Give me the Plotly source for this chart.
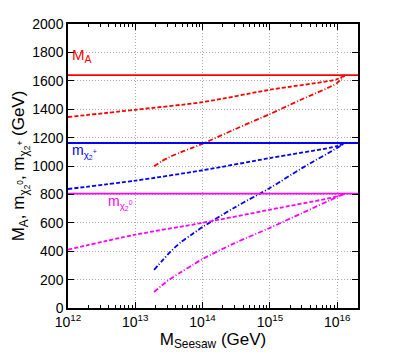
import plotly.graph_objects as go

# Horizontal reference masses (GeV)
x_solid = [1e12, 2.04e16]
MA_solid = [1640, 1640]
mch_solid = [1162, 1162]
mn_solid = [805, 805]

# Dashed curves
x_dash = [1e12, 1e13, 1e14, 1e15, 1e16, 1.3e16]
MA_dash = [1345, 1396, 1450, 1537, 1612, 1640]
mch_dash = [838, 897, 970, 1056, 1140, 1162]
mn_dash = [411, 516, 600, 692, 786, 805]

# Dash-dot curves
x_dd = [1.9e13, 2.5e13, 3.2e13, 4.8e13, 7e13, 1e14, 3e14, 1e15, 3e15, 1e16, 1.3e16]
MA_dd = [998, 1035, 1062, 1098, 1128, 1157, 1258, 1366, 1470, 1585, 1640]
mch_dd = [268, 332, 388, 465, 520, 570, 708, 845, 985, 1127, 1162]
mn_dd = [113, 160, 199, 253, 300, 345, 457, 564, 668, 782, 805]

# Axis ticks
x_tickvals = [1e12, 1e13, 1e14, 1e15, 1e16]
x_ticktext = ["10<sup>12</sup>", "10<sup>13</sup>", "10<sup>14</sup>", "10<sup>15</sup>", "10<sup>16</sup>"]

RED, BLUE, MAG = "#ff0000", "#0000ff", "#ff00ff"
DASH = "4px,2px"
DASHDOT = "5px,2px,1px,2px"

fig = go.Figure()
def add(x, y, c, dash, w=1.8):
    fig.add_trace(go.Scatter(x=x, y=y, mode="lines",
                             line=dict(color=c, width=w, dash=dash, shape="spline", smoothing=0.8),
                             showlegend=False))

add(x_solid, MA_solid, RED, "solid")
add(x_dash, MA_dash, RED, DASH)
add(x_dd, MA_dd, RED, DASHDOT)
add(x_solid, mch_solid, BLUE, "solid")
add(x_dash, mch_dash, BLUE, DASH)
add(x_dd, mch_dd, BLUE, DASHDOT)
add(x_solid, mn_solid, MAG, "solid")
add(x_dash, mn_dash, MAG, DASH)
add(x_dd, mn_dd, MAG, DASHDOT)

FONT = "Liberation Sans, Arial, sans-serif"

fig.add_annotation(x=12.03, y=1780, text="M<sub>A</sub>", showarrow=False,
                   xanchor="left", font=dict(color=RED, size=15, family=FONT))
fig.add_annotation(x=12.03, y=1100, text="m<sub>χ<sub>2</sub><sup>+</sup></sub>", showarrow=False,
                   xanchor="left", font=dict(color=BLUE, size=14, family=FONT))
fig.add_annotation(x=12.56, y=742, text="m<sub>χ<sub>2</sub><sup>0</sup></sub>", showarrow=False,
                   xanchor="left", font=dict(color=MAG, size=14, family=FONT))

minor_x = [m * 10 ** e for e in range(12, 17) for m in range(2, 10) if m * 10 ** e < 2.04e16]

fig.update_layout(
    template="none",
    width=399, height=357,
    margin=dict(l=60, r=49, t=16, b=57),
    paper_bgcolor="white", plot_bgcolor="white",
    font=dict(family=FONT, size=14, color="black"),
)
fig.update_xaxes(
    type="log", range=[12, 16.31], tickmode="array", automargin=False,
    tickvals=x_tickvals, ticktext=x_ticktext, tickangle=0,
    showline=True, linecolor="black", linewidth=1.5, mirror="ticks",
    ticks="inside", ticklen=6, tickcolor="black", tickwidth=1,
    showgrid=True, gridcolor="#aaaaaa", griddash="1px,2px", gridwidth=1,
    minor=dict(ticks="inside", ticklen=3, tickcolor="black", tickwidth=1, tickmode="array",
               tickvals=minor_x, showgrid=False),
    title=dict(text="M<sub>Seesaw</sub> (GeV)", standoff=0),
    zeroline=False,
)
fig.update_yaxes(
    range=[0, 2000], dtick=200, automargin=False,
    showline=True, linecolor="black", linewidth=1.5, mirror="ticks",
    ticks="inside", ticklen=6, tickcolor="black", tickwidth=1,
    showgrid=True, gridcolor="#aaaaaa", griddash="1px,2px", gridwidth=1,
    title=dict(text="M<sub>A</sub>, m<sub>χ<sub>2</sub><sup>0</sup></sub>, m<sub>χ<sub>2</sub><sup>+</sup></sub> (GeV)", standoff=2),
    zeroline=False,
)

fig.write_html("out.html")
